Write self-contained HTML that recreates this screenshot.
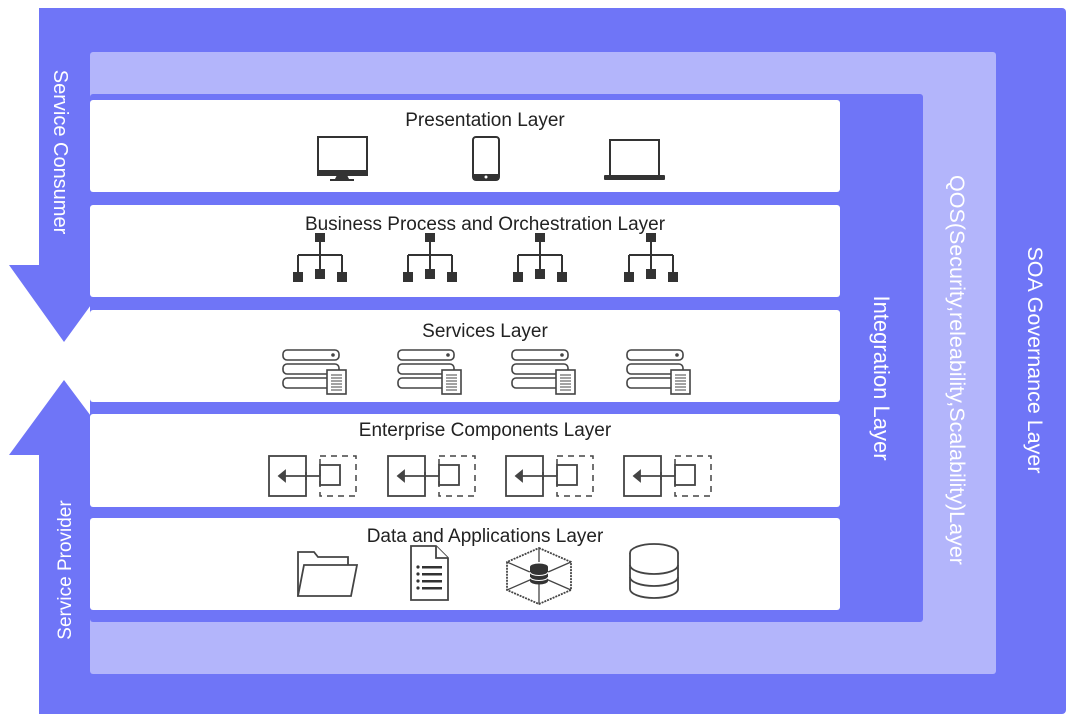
<!DOCTYPE html>
<html><head><meta charset="utf-8"><style>
html,body{margin:0;padding:0;background:#fff;}
svg{display:block;}
text{font-family:"Liberation Sans",sans-serif;}
</style></head><body>
<svg width="1080" height="724" viewBox="0 0 1080 724" xmlns="http://www.w3.org/2000/svg">
<defs>
<g id="org" fill="#333" stroke="#333">
<rect x="-5" y="0" width="10" height="9" stroke="none"/>
<line x1="0" y1="9" x2="0" y2="38" stroke-width="2"/>
<line x1="-22" y1="22" x2="22" y2="22" stroke-width="2"/>
<line x1="-22" y1="22" x2="-22" y2="40" stroke-width="2"/>
<line x1="22" y1="22" x2="22" y2="40" stroke-width="2"/>
<rect x="-27" y="39" width="10" height="10" stroke="none"/>
<rect x="-5" y="36" width="10" height="10" stroke="none"/>
<rect x="17" y="39" width="10" height="10" stroke="none"/>
</g>
<g id="srv" fill="#fff" stroke="#444" stroke-width="1.6">
<rect x="0" y="0" width="56" height="10" rx="4"/>
<rect x="0" y="14" width="56" height="10" rx="4"/>
<rect x="0" y="28" width="56" height="10" rx="4"/>
<circle cx="50" cy="5" r="1" fill="#444"/>
<rect x="44" y="20" width="19" height="24"/>
<path d="M48 25h11M48 28h11M48 31h11M48 34h11M48 37h11M48 40h11" stroke-width="1"/>
</g>
<g id="ent" fill="none" stroke="#444" stroke-width="1.8">
<rect x="0" y="0" width="37" height="40"/>
<rect x="51" y="9" width="20" height="20"/>
<rect x="51" y="0" width="36" height="40" stroke-dasharray="6,5" stroke-width="1.5"/>
<line x1="12" y1="20" x2="51" y2="20"/>
<line x1="37" y1="16" x2="37" y2="24"/>
<path d="M10 20l6-5v10z" fill="#444"/>
</g>
</defs>
<rect x="39" y="8" width="1027" height="706" rx="4" fill="#6f75f7"/>
<rect x="0" y="265" width="90" height="193" fill="#fff"/>
<path d="M39 8H90V265H120L64 342L9 265H39Z" fill="#6f75f7"/>
<path d="M64 380L120 455H90V714H39V455H9Z" fill="#6f75f7"/>
<rect x="90" y="52" width="906" height="622" rx="3" fill="#b3b5fb"/>
<rect x="90" y="94" width="833" height="528" rx="3" fill="#6f75f7"/>
<rect x="90" y="100" width="750" height="92" rx="3" fill="#fff"/>
<rect x="90" y="205" width="750" height="92" rx="3" fill="#fff"/>
<rect x="90" y="310" width="750" height="92" rx="3" fill="#fff"/>
<rect x="90" y="414" width="750" height="93" rx="3" fill="#fff"/>
<rect x="90" y="518" width="750" height="92" rx="3" fill="#fff"/>
<g font-size="19" fill="#222" text-anchor="middle">
<text x="485" y="126">Presentation Layer</text>
<text x="485" y="230">Business Process and Orchestration Layer</text>
<text x="485" y="337">Services Layer</text>
<text x="485" y="436">Enterprise Components Layer</text>
<text x="485" y="542">Data and Applications Layer</text>
</g>
<g fill="#fff" text-anchor="middle">
<text transform="translate(54,152) rotate(90)" font-size="20">Service Consumer</text>
<text transform="translate(71,570) rotate(-90)" font-size="19">Service Provider</text>
<text transform="translate(874,378) rotate(90)" font-size="22">Integration Layer</text>
<text transform="translate(950,370) rotate(90)" font-size="21.5">QOS(Security,releability,Scalability)Layer</text>
<text transform="translate(1028,360) rotate(90)" font-size="21.5">SOA Governance Layer</text>
</g>
<g fill="none" stroke="#333" stroke-width="2">
<rect x="318" y="137" width="49" height="38"/>
<rect x="473" y="137" width="26" height="43" rx="3"/>
<rect x="610" y="140" width="49" height="36"/>
</g>
<rect x="317" y="170" width="51" height="5" fill="#333"/>
<path d="M337 175h10l2 4h5v2h-24v-2h5z" fill="#333"/>
<rect x="473" y="174" width="26" height="6" fill="#333"/>
<circle cx="486" cy="177" r="1.5" fill="#fff"/>
<rect x="604" y="175" width="61" height="5" rx="1" fill="#333"/>
<use href="#org" x="320" y="233"/>
<use href="#org" x="430" y="233"/>
<use href="#org" x="540" y="233"/>
<use href="#org" x="651" y="233"/>
<use href="#srv" x="283" y="350"/>
<use href="#srv" x="398" y="350"/>
<use href="#srv" x="512" y="350"/>
<use href="#srv" x="627" y="350"/>
<use href="#ent" x="269" y="456"/>
<use href="#ent" x="388" y="456"/>
<use href="#ent" x="506" y="456"/>
<use href="#ent" x="624" y="456"/>
<g fill="#fff" stroke="#444" stroke-width="1.8">
<path d="M298 596V552h16l4 5h30v8"/>
<path d="M298 596l6-31h53l-6 31z"/>
<path d="M411 546h25l12 12v42h-37z"/>
<path d="M436 546v12h12"/>
<path d="M539 548l32 14v28l-32 14l-32-14v-28z" stroke-dasharray="2,1"/>
<path d="M507 562l32 14l32-14M539 576v28M507 590l32-14M571 590l-32-14M539 548v14" stroke-width="1.3"/>
<ellipse cx="654" cy="553" rx="24" ry="9"/>
<path d="M630 553v36a24 9 0 0 0 48 0v-36"/>
<path d="M630 565a24 9 0 0 0 48 0M630 577a24 9 0 0 0 48 0"/>
</g>
<g fill="#333">
<circle cx="418" cy="567" r="1.6"/><rect x="422" y="566" width="20" height="2.5"/>
<circle cx="418" cy="574" r="1.6"/><rect x="422" y="573" width="20" height="2.5"/>
<circle cx="418" cy="581" r="1.6"/><rect x="422" y="580" width="20" height="2.5"/>
<circle cx="418" cy="588" r="1.6"/><rect x="422" y="587" width="20" height="2.5"/>
<ellipse cx="539" cy="567" rx="9" ry="3.5"/>
<rect x="530" y="567" width="18" height="14"/>
<ellipse cx="539" cy="581" rx="9" ry="3.5"/>
</g>
<path d="M530 572a9 3.5 0 0 0 18 0M530 577a9 3.5 0 0 0 18 0" fill="none" stroke="#fff" stroke-width="1"/>
</svg>
</body></html>
